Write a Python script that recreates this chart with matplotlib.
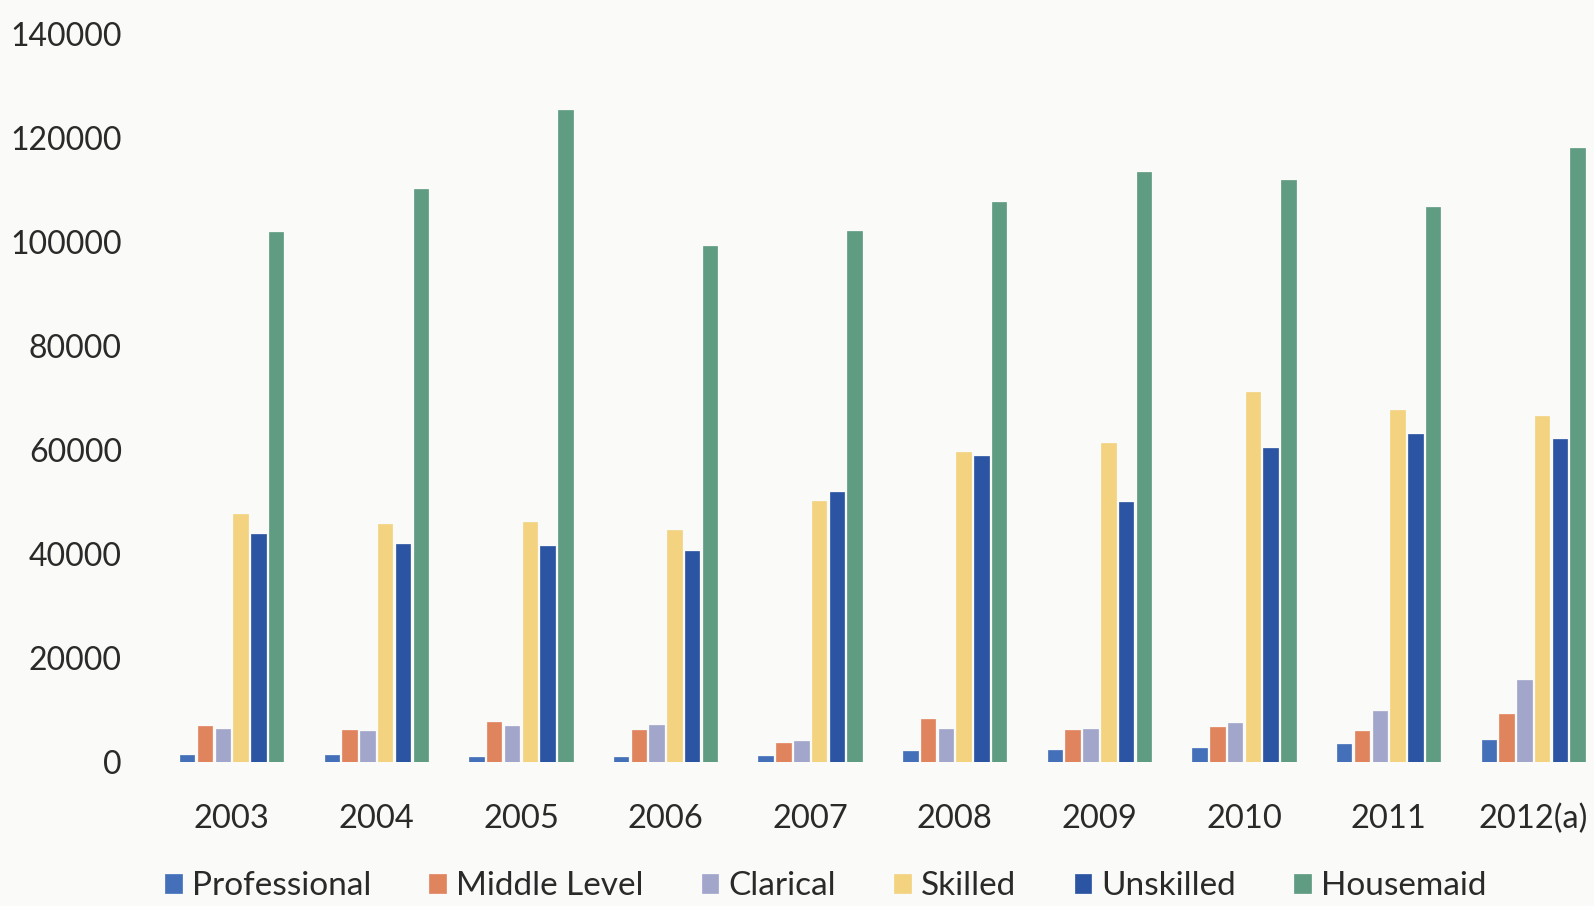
import matplotlib
matplotlib.use("Agg")
import matplotlib.pyplot as plt
import numpy as np

plt.rcParams['font.family'] = ['Lato', 'DejaVu Sans']

years = ["2003", "2004", "2005", "2006", "2007", "2008", "2009", "2010", "2011", "2012(a)"]
series_names = ["Professional", "Middle Level", "Clarical", "Skilled", "Unskilled", "Housemaid"]

professional = [1400, 1400, 1000, 1000, 1200, 2100, 2300, 2700, 3500, 4300]
middle_level = [7000, 6200, 7600, 6200, 3700, 8200, 6200, 6800, 5900, 9200]
clarical = [6400, 6000, 7000, 7200, 4100, 6400, 6400, 7400, 9800, 15800]
skilled = [47600, 45700, 46200, 44700, 50100, 59700, 61300, 71200, 67700, 66500]
unskilled = [43900, 42000, 41600, 40600, 51900, 58900, 50000, 60300, 63000, 62200]
housemaid = [101900, 110200, 125300, 99300, 102200, 107700, 113400, 112000, 106700, 118000]

colors = ["#4370B8", "#E0845E", "#A2A6CB", "#F3D37F", "#2B55A3", "#5F9C82"]
y_ticks = [0, 20000, 40000, 60000, 80000, 100000, 120000, 140000]

values = [professional, middle_level, clarical, skilled, unskilled, housemaid]

fig = plt.figure(figsize=(15.94, 9.06), dpi=100, facecolor="#FAFAF8")
ax = fig.add_axes([0.1, 0.159, 0.9, 0.8035])
ax.set_facecolor("#FAFAF8")

x = np.arange(len(years))
pitch = 0.123
width = 0.1
handles = []
for i, (name, vals, c) in enumerate(zip(series_names, values, colors)):
    h = ax.bar(x + (i - 2.5) * pitch, vals, width=width, color=c, label=name,
               edgecolor=c, linewidth=0.5)
    handles.append(h)

ax.set_ylim(0, 140000)
ax.set_xlim(-0.5, 9.42)
ax.set_yticks(y_ticks)
ax.set_yticklabels([str(v) for v in y_ticks], fontsize=23, color="#2a2a2a")
ax.set_xticks(x)
ax.set_xticklabels(years, fontsize=23.5, color="#2a2a2a")
ax.tick_params(axis='both', length=0)
ax.tick_params(axis='y', pad=27)
ax.tick_params(axis='x', pad=30)
for s in ax.spines.values():
    s.set_visible(False)

fig.legend(handles=handles, labels=series_names, loc="center", ncol=6,
           bbox_to_anchor=(0.518, 0.022), frameon=False, fontsize=24,
           handlelength=0.5, handleheight=0.5, handletextpad=0.3,
           columnspacing=1.75, labelcolor="#2a2a2a")

fig.savefig("out.png", dpi=100, facecolor=fig.get_facecolor())
